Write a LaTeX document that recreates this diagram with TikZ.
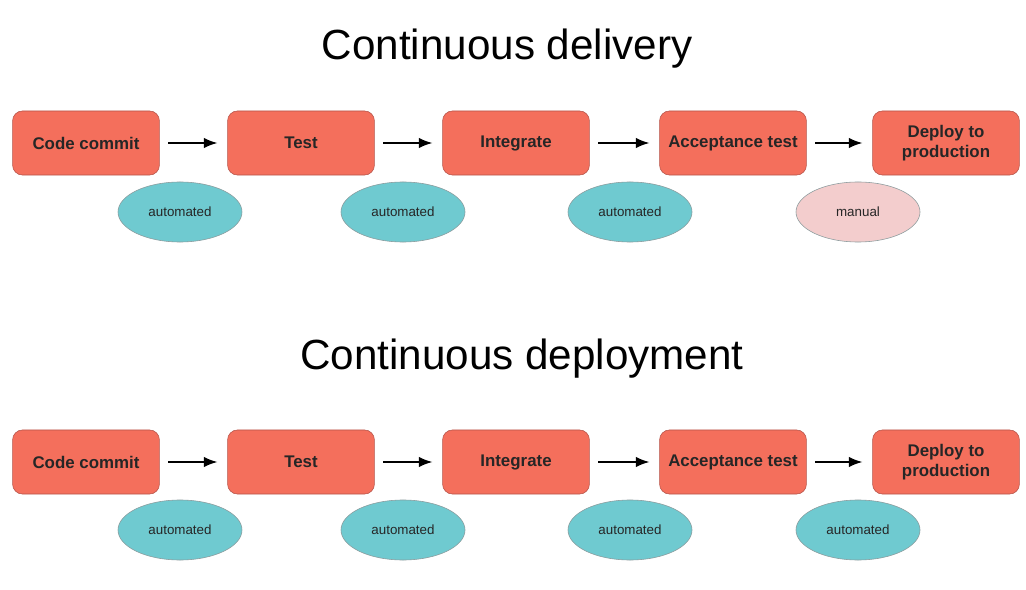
\documentclass[tikz,border=0pt]{standalone}
\usepackage{fontspec}
\setmainfont{Liberation Sans}
\usepackage{tikz}
\usetikzlibrary{shapes.geometric, arrows.meta}

\definecolor{stepred}{HTML}{F46F5C}
\definecolor{stepedge}{HTML}{B5544A}
\definecolor{autoteal}{HTML}{6FCAD0}
\definecolor{manualpink}{HTML}{F3CDCD}
\definecolor{ovaledge}{HTML}{8A9A9C}

\tikzset{
	stepbox/.style={draw=stepedge, fill=stepred, rounded corners=7pt, minimum width=3.67cm, minimum height=1.6cm, align=center, font=\bfseries\fontsize{12}{14}\selectfont, text=black!85},
	autooval/.style={ellipse, draw=ovaledge, fill=autoteal, minimum width=3.1cm, minimum height=1.5cm, font=\fontsize{9.5}{11}\selectfont, text=black!85},
	manualoval/.style={autooval, fill=manualpink},
	flow/.style={-{Latex[length=0.34cm, width=0.26cm]}, line width=1.1pt, shorten <=6pt, shorten >=7pt}
}

\begin{document}
\begin{tikzpicture}[x=0.025cm, y=-0.025cm]
				\useasboundingbox (0,0) rectangle (1026,590);
				% continuous delivery
				\node[font=\fontsize{30}{34}\selectfont] (titleA) at (507,49) {Continuous delivery};
				\node[stepbox] (commitA) at (86,143) {Code commit};
				\node[stepbox] (testA) at (301,143) {Test};
				\node[stepbox] (integrateA) at (516,143) {Integrate};
				\node[stepbox] (acceptA) at (733,143) {Acceptance test};
				\node[stepbox] (deployA) at (946,143) {Deploy to\\production};
				\draw[flow] (commitA) -- (testA);
				\draw[flow] (testA) -- (integrateA);
				\draw[flow] (integrateA) -- (acceptA);
				\draw[flow] (acceptA) -- (deployA);
				\node[autooval] (autoA1) at (180,212) {automated};
				\node[autooval] (autoA2) at (403,212) {automated};
				\node[autooval] (autoA3) at (630,212) {automated};
				\node[manualoval] (manualA) at (858,212) {manual};
				% continuous deployment
				\node[font=\fontsize{30}{34}\selectfont] (titleB) at (522,359) {Continuous deployment};
				\node[stepbox] (commitB) at (86,462) {Code commit};
				\node[stepbox] (testB) at (301,462) {Test};
				\node[stepbox] (integrateB) at (516,462) {Integrate};
				\node[stepbox] (acceptB) at (733,462) {Acceptance test};
				\node[stepbox] (deployB) at (946,462) {Deploy to\\production};
				\draw[flow] (commitB) -- (testB);
				\draw[flow] (testB) -- (integrateB);
				\draw[flow] (integrateB) -- (acceptB);
				\draw[flow] (acceptB) -- (deployB);
				\node[autooval] (autoB1) at (180,530) {automated};
				\node[autooval] (autoB2) at (403,530) {automated};
				\node[autooval] (autoB3) at (630,530) {automated};
				\node[autooval] (autoB4) at (858,530) {automated};
\end{tikzpicture}
\end{document}
